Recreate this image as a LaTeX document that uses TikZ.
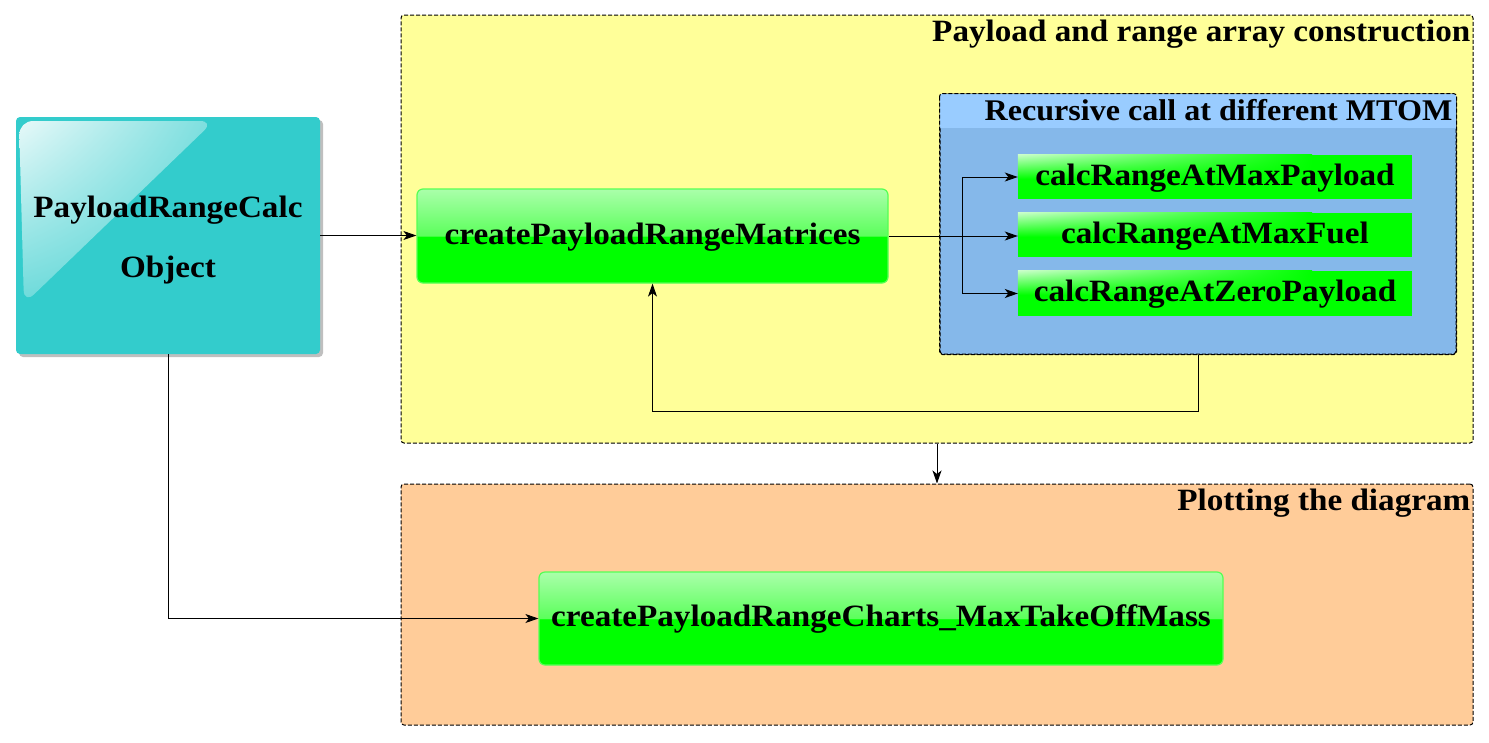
\documentclass[tikz,border=0pt]{standalone}
\usepackage{fontspec}
\setmainfont{Liberation Serif}[FakeStretch=1.07]
\usetikzlibrary{arrows.meta,shadows,shadings}
\definecolor{cyanbox}{HTML}{33CCCC}
\definecolor{yellowbg}{HTML}{FFFF99}
\definecolor{orangebg}{HTML}{FFCC99}
\definecolor{bluebody}{HTML}{85B8EA}
\definecolor{bluehead}{HTML}{99CCFF}
\definecolor{glight}{HTML}{AAFFAA}
\definecolor{gmid}{HTML}{5CFF5C}
\definecolor{gborder}{HTML}{55FF55}
\pgfdeclareverticalshading{glassgreen}{100bp}{color(0bp)=(green); color(49.6bp)=(green); color(50.2bp)=(gmid); color(75bp)=(glight); color(100bp)=(glight)}
\tikzset{
  container/.style={draw=black, dash pattern=on 4pt off 2pt, line width=1pt, rounded corners=3pt, inner sep=0pt},
  titletext/.style={inner sep=0pt, anchor=base east},
  bigfunc/.style={rounded corners=6pt, draw=gborder, line width=1.2pt, shade, shading=glassgreen, inner sep=0pt, text height=21pt, text depth=5pt},
  smallfunc/.style={fill=green, inner sep=0pt, minimum width=394pt},
  functext/.style={inner sep=0pt, text height=21pt, text depth=5pt},
  arr/.style={-{Stealth[length=13pt,width=9pt,inset=3.5pt]}, line width=1pt},
}
\begin{document}
\begin{tikzpicture}[x=1pt,y=-1pt,font=\fontsize{31}{40}\selectfont\bfseries]
\useasboundingbox (0,0) rectangle (1489,742);
% containers
\node[container, fill=yellowbg, minimum width=1072pt, minimum height=428pt] (yellow) at (937,229) {};
\node[titletext] (ytitle) at ([xshift=-3pt,yshift=-27pt]yellow.north east) {Payload and range array construction};
\node[container, fill=orangebg, minimum width=1072pt, minimum height=241pt] (orange) at (937,604.5) {};
\node[titletext] (otitle) at ([xshift=-3pt,yshift=-27pt]orange.north east) {Plotting the diagram};
% recursive box
\node[container, fill=bluebody, minimum width=516pt, minimum height=260pt] (rec) at (1198,224) {};
\begin{scope}
  \clip[rounded corners=3pt] (rec.north west) rectangle (rec.south east);
  \fill[bluehead] (rec.north west) rectangle ([yshift=-34pt]rec.north east);
\end{scope}
\draw[dash pattern=on 4pt off 2pt, line width=1pt, rounded corners=3pt] (rec.north west) rectangle (rec.south east);
\node[titletext, font=\fontsize{30}{40}\selectfont\bfseries] (rtitle) at ([xshift=-4pt,yshift=-27pt]rec.north east) {Recursive call at different MTOM};
% object box
\node[fill=cyanbox, rounded corners=4pt, minimum width=304pt, minimum height=237pt, inner sep=0pt,
      drop shadow={shadow xshift=3pt, shadow yshift=-3pt, fill=black, opacity=0.25}] (obj) at (168,235.5) {};
\begin{scope}
  \clip[rounded corners=4pt] (obj.north west) rectangle (obj.south east);
  \shade[rounded corners=14pt, upper left=white!88!cyanbox, upper right=white!35!cyanbox, lower left=white!28!cyanbox, lower right=white!15!cyanbox]
    (19,121) -- (214,121) -- (24,304) -- cycle;
\end{scope}
\node[align=center, inner sep=0pt, font=\fontsize{31}{60}\selectfont\bfseries] (objtext) at ([yshift=-4.5pt]obj.center) {PayloadRangeCalc\\Object};
% function boxes
\node[bigfunc, minimum width=471pt, minimum height=94pt] (cpm) at (652.5,236) {createPayloadRangeMatrices};
\node[bigfunc, minimum width=684pt, minimum height=93pt] (charts) at (881,618.5) {createPayloadRangeCharts\_MaxTakeOffMass};
\node[smallfunc, minimum height=44pt] (pay) at (1215,177) {};
\node[smallfunc, minimum height=44pt] (fuel) at (1215,235) {};
\node[smallfunc, minimum height=45pt] (zero) at (1215,293.5) {};
\foreach \b in {pay,fuel,zero}{
  \shade[upper left=green!22!white, upper right=green, lower left=green, lower right=green]
    (\b.north west) rectangle ([xshift=-100pt,yshift=-24pt]\b.north east);
}
\node[functext] (paytext) at (pay.center) {calcRangeAtMaxPayload};
\node[functext] (fueltext) at (fuel.center) {calcRangeAtMaxFuel};
\node[functext] (zerotext) at (zero.center) {calcRangeAtZeroPayload};
% connectors
\draw[arr] (obj.east) -- (obj.east -| cpm.west);
\draw[arr] (cpm.east) -- (cpm.east -| fuel.west);
\coordinate (br) at (962,236);
\draw[arr] (br) |- (pay.west);
\draw[arr] (br) |- (zero.west);
\draw[arr] (rec.south) -- ++(0,57) -| (cpm.south);
\draw[arr] (yellow.south) -- (orange.north);
\draw[arr] (obj.south) |- (charts.west);
\end{tikzpicture}
\end{document}
